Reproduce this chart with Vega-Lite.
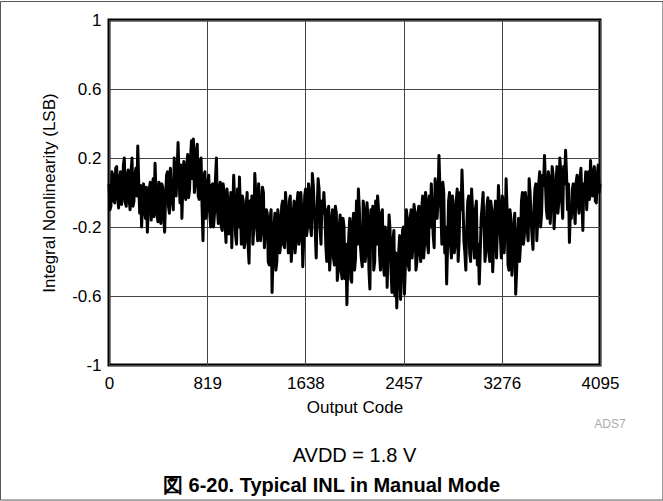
{
  "$schema": "https://vega.github.io/schema/vega-lite/v6.json",
  "width": 491,
  "height": 345,
  "autosize": {"type": "none"},
  "padding": {"left": 109, "top": 20, "right": 63, "bottom": 136},
  "background": "white",
  "config": {
    "view": {"stroke": "black", "strokeWidth": 3},
    "font": "Liberation Sans"
  },
  "datasets": {
    "inl": [
      {"code":0,"inl":0.05},{"code":8,"inl":-0.1},{"code":16,"inl":-0.08},{"code":24,"inl":0.12},{"code":32,"inl":0.1},{"code":40,"inl":-0.05},{"code":48,"inl":-0.06},{"code":56,"inl":0.14},{"code":64,"inl":0.15},{"code":72,"inl":-0.02},{"code":80,"inl":-0.09},{"code":88,"inl":0.08},{"code":96,"inl":0.12},{"code":104,"inl":-0.07},{"code":112,"inl":-0.03},{"code":120,"inl":0.16},{"code":128,"inl":0.2},{"code":136,"inl":-0.06},{"code":144,"inl":-0.08},{"code":152,"inl":0.1},{"code":160,"inl":0.13},{"code":168,"inl":-0.04},{"code":176,"inl":-0.1},{"code":184,"inl":0.12},{"code":192,"inl":0.2},{"code":200,"inl":-0.08},{"code":208,"inl":-0.05},{"code":216,"inl":0.1},{"code":224,"inl":0.14},{"code":232,"inl":-0.02},{"code":240,"inl":0.27},{"code":248,"inl":0.05},
      {"code":256,"inl":-0.12},{"code":264,"inl":0.04},{"code":272,"inl":-0.2},{"code":280,"inl":-0.05},{"code":288,"inl":0.05},{"code":296,"inl":-0.1},{"code":304,"inl":-0.15},{"code":312,"inl":0.03},{"code":320,"inl":-0.23},{"code":328,"inl":-0.08},{"code":336,"inl":0.02},{"code":344,"inl":0.06},{"code":352,"inl":-0.16},{"code":360,"inl":-0.04},{"code":368,"inl":0.08},{"code":376,"inl":-0.14},{"code":384,"inl":0.17},{"code":392,"inl":0.0},{"code":400,"inl":-0.12},{"code":408,"inl":-0.17},{"code":416,"inl":0.06},{"code":424,"inl":-0.05},{"code":432,"inl":-0.18},{"code":440,"inl":0.05},{"code":448,"inl":0.03},{"code":456,"inl":-0.14},
      {"code":464,"inl":-0.23},{"code":472,"inl":-0.02},{"code":480,"inl":0.1},{"code":488,"inl":0.12},{"code":496,"inl":-0.08},{"code":504,"inl":-0.12},{"code":512,"inl":0.14},{"code":520,"inl":0.0},{"code":528,"inl":-0.05},{"code":536,"inl":-0.1},{"code":544,"inl":0.2},{"code":552,"inl":0.08},{"code":560,"inl":-0.02},{"code":568,"inl":0.12},
      {"code":576,"inl":0.29},{"code":584,"inl":0.1},{"code":592,"inl":-0.06},{"code":600,"inl":0.16},{"code":608,"inl":-0.15},{"code":616,"inl":0.05},{"code":624,"inl":0.18},{"code":632,"inl":0.0},{"code":640,"inl":-0.04},{"code":648,"inl":0.15},{"code":656,"inl":0.22},{"code":664,"inl":-0.03},{"code":672,"inl":0.02},{"code":680,"inl":0.2},{"code":688,"inl":0.3},{"code":696,"inl":0.08},{"code":704,"inl":0.31},{"code":712,"inl":0.0},{"code":720,"inl":0.05},{"code":728,"inl":0.24},{"code":736,"inl":0.28},{"code":744,"inl":-0.02},{"code":752,"inl":-0.04},{"code":760,"inl":0.18},{"code":768,"inl":0.2},{"code":776,"inl":-0.08},{"code":784,"inl":-0.28},{"code":792,"inl":0.1},{"code":800,"inl":0.12},{"code":808,"inl":-0.15},
      {"code":816,"inl":-0.1},{"code":824,"inl":0.06},{"code":832,"inl":0.1},{"code":840,"inl":-0.12},{"code":848,"inl":-0.2},{"code":856,"inl":0.04},{"code":864,"inl":0.05},{"code":872,"inl":-0.2},{"code":880,"inl":-0.12},{"code":888,"inl":0.08},{"code":896,"inl":0.2},{"code":904,"inl":-0.1},{"code":912,"inl":-0.18},{"code":920,"inl":0.02},{"code":928,"inl":0.06},{"code":936,"inl":-0.2},{"code":944,"inl":-0.22},{"code":952,"inl":0.05},{"code":960,"inl":0.0},{"code":968,"inl":-0.18},{"code":976,"inl":-0.29},{"code":984,"inl":0.02},{"code":992,"inl":-0.05},{"code":1000,"inl":-0.24},{"code":1008,"inl":-0.2},{"code":1016,"inl":0.0},{"code":1024,"inl":-0.32},{"code":1032,"inl":-0.1},
      {"code":1040,"inl":0.1},{"code":1048,"inl":-0.05},{"code":1056,"inl":-0.25},{"code":1064,"inl":-0.3},{"code":1072,"inl":0.02},{"code":1080,"inl":-0.2},{"code":1088,"inl":0.09},{"code":1096,"inl":-0.1},{"code":1104,"inl":-0.3},{"code":1112,"inl":-0.02},{"code":1120,"inl":-0.05},{"code":1128,"inl":-0.32},{"code":1136,"inl":-0.28},{"code":1144,"inl":-0.08},{"code":1152,"inl":0.0},{"code":1160,"inl":-0.3},{"code":1168,"inl":-0.41},{"code":1176,"inl":-0.05},{"code":1184,"inl":-0.1},{"code":1192,"inl":-0.02},{"code":1200,"inl":-0.3},{"code":1208,"inl":-0.2},{"code":1216,"inl":0.11},{"code":1224,"inl":0.0},
      {"code":1232,"inl":-0.2},{"code":1240,"inl":-0.28},{"code":1248,"inl":0.05},{"code":1256,"inl":-0.05},{"code":1264,"inl":-0.28},{"code":1272,"inl":-0.22},{"code":1280,"inl":0.03},{"code":1288,"inl":0.0},{"code":1296,"inl":-0.32},{"code":1304,"inl":-0.2},{"code":1312,"inl":-0.1},{"code":1320,"inl":-0.12},{"code":1328,"inl":-0.4},{"code":1336,"inl":-0.42},{"code":1344,"inl":-0.15},{"code":1352,"inl":-0.1},{"code":1360,"inl":-0.58},{"code":1368,"inl":-0.38},{"code":1376,"inl":-0.2},{"code":1384,"inl":-0.12},{"code":1392,"inl":-0.45},{"code":1400,"inl":-0.4},{"code":1408,"inl":-0.1},{"code":1416,"inl":-0.15},
      {"code":1424,"inl":-0.35},{"code":1432,"inl":-0.3},{"code":1440,"inl":-0.08},{"code":1448,"inl":-0.05},{"code":1456,"inl":-0.3},{"code":1464,"inl":-0.32},{"code":1472,"inl":0.0},{"code":1480,"inl":-0.1},{"code":1488,"inl":-0.25},{"code":1496,"inl":-0.35},{"code":1504,"inl":-0.05},{"code":1512,"inl":-0.02},{"code":1520,"inl":-0.4},{"code":1528,"inl":-0.3},{"code":1536,"inl":-0.12},{"code":1544,"inl":-0.05},{"code":1552,"inl":-0.35},{"code":1560,"inl":-0.28},{"code":1568,"inl":-0.06},{"code":1576,"inl":0.0},{"code":1584,"inl":-0.3},{"code":1592,"inl":-0.25},{"code":1600,"inl":0.0},{"code":1608,"inl":-0.1},{"code":1616,"inl":-0.43},{"code":1624,"inl":-0.28},{"code":1632,"inl":-0.02},{"code":1640,"inl":0.02},{"code":1648,"inl":-0.25},{"code":1656,"inl":-0.2},
      {"code":1664,"inl":0.05},{"code":1672,"inl":0.0},{"code":1680,"inl":-0.2},{"code":1688,"inl":-0.25},{"code":1696,"inl":0.11},{"code":1704,"inl":0.04},{"code":1712,"inl":-0.1},{"code":1720,"inl":-0.22},{"code":1728,"inl":-0.38},{"code":1736,"inl":-0.1},{"code":1744,"inl":0.08},{"code":1752,"inl":0.02},{"code":1760,"inl":-0.2},{"code":1768,"inl":-0.3},{"code":1776,"inl":-0.05},{"code":1784,"inl":-0.12},{"code":1792,"inl":0.0},{"code":1800,"inl":-0.1},{"code":1808,"inl":-0.3},{"code":1816,"inl":-0.4},{"code":1824,"inl":-0.1},{"code":1832,"inl":-0.08},{"code":1840,"inl":-0.45},{"code":1848,"inl":-0.35},{"code":1856,"inl":-0.15},{"code":1864,"inl":-0.1},{"code":1872,"inl":-0.38},{"code":1880,"inl":-0.42},{"code":1888,"inl":-0.08},{"code":1896,"inl":-0.12},
      {"code":1904,"inl":-0.51},{"code":1912,"inl":-0.45},{"code":1920,"inl":-0.2},{"code":1928,"inl":-0.13},{"code":1936,"inl":-0.45},{"code":1944,"inl":-0.5},{"code":1952,"inl":-0.15},{"code":1960,"inl":-0.2},{"code":1968,"inl":-0.5},{"code":1976,"inl":-0.3},{"code":1984,"inl":-0.65},{"code":1992,"inl":-0.4},{"code":2000,"inl":-0.25},{"code":2008,"inl":-0.15},{"code":2016,"inl":-0.5},{"code":2024,"inl":-0.52},{"code":2032,"inl":-0.18},{"code":2040,"inl":-0.12},{"code":2048,"inl":-0.45},{"code":2056,"inl":-0.38},{"code":2064,"inl":-0.05},{"code":2072,"inl":-0.3},{"code":2080,"inl":0.02},{"code":2088,"inl":-0.1},
      {"code":2096,"inl":-0.3},{"code":2104,"inl":-0.38},{"code":2112,"inl":-0.43},{"code":2120,"inl":-0.05},{"code":2128,"inl":-0.1},{"code":2136,"inl":-0.4},{"code":2144,"inl":-0.35},{"code":2152,"inl":-0.06},{"code":2160,"inl":-0.15},{"code":2168,"inl":-0.45},{"code":2176,"inl":-0.56},{"code":2184,"inl":-0.1},{"code":2192,"inl":-0.2},{"code":2200,"inl":-0.08},{"code":2208,"inl":-0.45},{"code":2216,"inl":-0.4},{"code":2224,"inl":-0.05},{"code":2232,"inl":-0.3},{"code":2240,"inl":-0.02},{"code":2248,"inl":-0.1},{"code":2256,"inl":-0.35},{"code":2264,"inl":-0.45},{"code":2272,"inl":-0.12},{"code":2280,"inl":-0.1},{"code":2288,"inl":-0.42},{"code":2296,"inl":-0.48},{"code":2304,"inl":-0.2},{"code":2312,"inl":-0.25},
      {"code":2320,"inl":-0.55},{"code":2328,"inl":-0.3},{"code":2336,"inl":-0.13},{"code":2344,"inl":-0.22},{"code":2352,"inl":-0.45},{"code":2360,"inl":-0.58},{"code":2368,"inl":-0.28},{"code":2376,"inl":-0.22},{"code":2384,"inl":-0.6},{"code":2392,"inl":-0.35},{"code":2400,"inl":-0.67},{"code":2408,"inl":-0.5},{"code":2416,"inl":-0.35},{"code":2424,"inl":-0.25},{"code":2432,"inl":-0.62},{"code":2440,"inl":-0.45},{"code":2448,"inl":-0.22},{"code":2456,"inl":-0.2},
      {"code":2464,"inl":-0.59},{"code":2472,"inl":-0.42},{"code":2480,"inl":-0.1},{"code":2488,"inl":-0.15},{"code":2496,"inl":-0.42},{"code":2504,"inl":-0.45},{"code":2512,"inl":-0.15},{"code":2520,"inl":-0.1},{"code":2528,"inl":-0.38},{"code":2536,"inl":-0.3},{"code":2544,"inl":-0.07},{"code":2552,"inl":-0.12},{"code":2560,"inl":-0.45},{"code":2568,"inl":-0.4},{"code":2576,"inl":-0.12},{"code":2584,"inl":-0.08},{"code":2592,"inl":-0.35},{"code":2600,"inl":-0.4},{"code":2608,"inl":-0.09},{"code":2616,"inl":-0.02},
      {"code":2624,"inl":-0.38},{"code":2632,"inl":-0.3},{"code":2640,"inl":0.0},{"code":2648,"inl":-0.05},{"code":2656,"inl":-0.3},{"code":2664,"inl":-0.35},{"code":2672,"inl":-0.02},{"code":2680,"inl":-0.2},{"code":2688,"inl":0.05},{"code":2696,"inl":-0.1},{"code":2704,"inl":-0.25},{"code":2712,"inl":-0.32},{"code":2720,"inl":0.08},{"code":2728,"inl":0.0},{"code":2736,"inl":-0.15},{"code":2744,"inl":-0.05},{"code":2752,"inl":0.215},{"code":2760,"inl":0.02},{"code":2768,"inl":-0.1},{"code":2776,"inl":-0.3},{"code":2784,"inl":0.06},{"code":2792,"inl":0.0},{"code":2800,"inl":-0.35},{"code":2808,"inl":-0.2},{"code":2816,"inl":-0.53},{"code":2824,"inl":-0.3},
      {"code":2832,"inl":-0.05},{"code":2840,"inl":0.0},{"code":2848,"inl":-0.3},{"code":2856,"inl":-0.38},{"code":2864,"inl":-0.02},{"code":2872,"inl":-0.08},{"code":2880,"inl":-0.35},{"code":2888,"inl":-0.3},{"code":2896,"inl":-0.05},{"code":2904,"inl":0.02},{"code":2912,"inl":-0.4},{"code":2920,"inl":-0.28},{"code":2928,"inl":0.0},{"code":2936,"inl":-0.1},{"code":2944,"inl":0.13},{"code":2952,"inl":-0.05},{"code":2960,"inl":-0.28},{"code":2968,"inl":-0.35},{"code":2976,"inl":-0.45},{"code":2984,"inl":-0.2},{"code":2992,"inl":-0.05},{"code":3000,"inl":-0.02},
      {"code":3008,"inl":-0.35},{"code":3016,"inl":-0.4},{"code":3024,"inl":0.02},{"code":3032,"inl":-0.1},{"code":3040,"inl":-0.3},{"code":3048,"inl":-0.38},{"code":3056,"inl":-0.1},{"code":3064,"inl":-0.05},{"code":3072,"inl":-0.42},{"code":3080,"inl":-0.3},{"code":3088,"inl":-0.53},{"code":3096,"inl":-0.35},{"code":3104,"inl":-0.15},{"code":3112,"inl":-0.08},{"code":3120,"inl":0.0},{"code":3128,"inl":-0.2},{"code":3136,"inl":-0.4},{"code":3144,"inl":-0.32},
      {"code":3152,"inl":-0.08},{"code":3160,"inl":-0.03},{"code":3168,"inl":-0.35},{"code":3176,"inl":-0.4},{"code":3184,"inl":-0.05},{"code":3192,"inl":-0.1},{"code":3200,"inl":-0.46},{"code":3208,"inl":-0.3},{"code":3216,"inl":-0.12},{"code":3224,"inl":-0.05},{"code":3232,"inl":-0.38},{"code":3240,"inl":-0.2},{"code":3248,"inl":0.04},{"code":3256,"inl":-0.08},{"code":3264,"inl":-0.25},{"code":3272,"inl":-0.38},{"code":3280,"inl":-0.02},{"code":3288,"inl":-0.05},{"code":3296,"inl":-0.35},{"code":3304,"inl":-0.2},{"code":3312,"inl":0.08},{"code":3320,"inl":-0.1},
      {"code":3328,"inl":-0.42},{"code":3336,"inl":-0.45},{"code":3344,"inl":-0.1},{"code":3352,"inl":-0.15},{"code":3360,"inl":-0.48},{"code":3368,"inl":-0.4},{"code":3376,"inl":-0.2},{"code":3384,"inl":-0.12},{"code":3392,"inl":-0.59},{"code":3400,"inl":-0.45},{"code":3408,"inl":-0.25},{"code":3416,"inl":-0.15},{"code":3424,"inl":-0.4},{"code":3432,"inl":-0.3},{"code":3440,"inl":-0.05},{"code":3448,"inl":0.0},
      {"code":3456,"inl":-0.3},{"code":3464,"inl":-0.25},{"code":3472,"inl":0.0},{"code":3480,"inl":-0.05},{"code":3488,"inl":-0.22},{"code":3496,"inl":-0.28},{"code":3504,"inl":0.08},{"code":3512,"inl":0.0},{"code":3520,"inl":-0.15},{"code":3528,"inl":-0.25},{"code":3536,"inl":-0.33},{"code":3544,"inl":-0.1},{"code":3552,"inl":0.02},{"code":3560,"inl":0.05},
      {"code":3568,"inl":-0.28},{"code":3576,"inl":-0.15},{"code":3584,"inl":0.05},{"code":3592,"inl":0.12},{"code":3600,"inl":-0.2},{"code":3608,"inl":-0.12},{"code":3616,"inl":0.1},{"code":3624,"inl":0.04},{"code":3632,"inl":0.215},{"code":3640,"inl":0.05},{"code":3648,"inl":-0.1},{"code":3656,"inl":-0.15},{"code":3664,"inl":0.12},{"code":3672,"inl":0.08},{"code":3680,"inl":-0.18},{"code":3688,"inl":-0.05},{"code":3696,"inl":0.15},{"code":3704,"inl":0.1},
      {"code":3712,"inl":-0.21},{"code":3720,"inl":-0.1},{"code":3728,"inl":0.05},{"code":3736,"inl":0.15},{"code":3744,"inl":-0.12},{"code":3752,"inl":-0.05},{"code":3760,"inl":0.2},{"code":3768,"inl":0.12},{"code":3776,"inl":-0.05},{"code":3784,"inl":-0.15},{"code":3792,"inl":0.15},{"code":3800,"inl":0.05},{"code":3808,"inl":0.245},{"code":3816,"inl":0.1},{"code":3824,"inl":-0.1},{"code":3832,"inl":0.05},{"code":3840,"inl":-0.29},{"code":3848,"inl":-0.1},
      {"code":3856,"inl":-0.15},{"code":3864,"inl":0.02},{"code":3872,"inl":0.05},{"code":3880,"inl":-0.1},{"code":3888,"inl":-0.18},{"code":3896,"inl":0.06},{"code":3904,"inl":0.1},{"code":3912,"inl":-0.05},{"code":3920,"inl":-0.12},{"code":3928,"inl":0.08},{"code":3936,"inl":0.14},{"code":3944,"inl":-0.05},{"code":3952,"inl":-0.22},{"code":3960,"inl":0.05},
      {"code":3968,"inl":0.0},{"code":3976,"inl":0.12},{"code":3984,"inl":-0.1},{"code":3992,"inl":0.02},{"code":4000,"inl":0.12},{"code":4008,"inl":-0.04},{"code":4016,"inl":0.186},{"code":4024,"inl":0.06},{"code":4032,"inl":-0.02},{"code":4040,"inl":0.12},{"code":4048,"inl":0.15},{"code":4056,"inl":-0.05},{"code":4064,"inl":-0.06},{"code":4072,"inl":0.1},{"code":4080,"inl":0.16},{"code":4088,"inl":0.0},{"code":4095,"inl":0.05}
    ]
  },
  "layer": [
    {
      "data": {"name": "inl"},
      "mark": {"type": "line", "color": "black", "strokeWidth": 3, "strokeJoin": "round"},
      "encoding": {
        "x": {
          "field": "code", "type": "quantitative",
          "scale": {"domain": [0, 4095], "nice": false, "zero": false},
          "axis": {
            "values": [0, 819, 1638, 2457, 3276, 4095], "format": "d",
            "title": "Output Code", "grid": true, "gridColor": "#444", "gridWidth": 1,
            "domain": false, "ticks": false, "labelPadding": 10, "labelFontSize": 17,
            "labelColor": "black", "labelFlush": false, "labelOverlap": false,
            "titleFontSize": 17, "titleFontWeight": "normal", "titleColor": "black", "titlePadding": 8
          }
        },
        "y": {
          "field": "inl", "type": "quantitative",
          "scale": {"domain": [-1, 1], "nice": false, "zero": false},
          "axis": {
            "values": [-1, -0.6, -0.2, 0.2, 0.6, 1],
            "labelExpr": "datum.value < 0 ? '-' + format(-datum.value, '~g') : format(datum.value, '~g')",
            "title": "Integral Nonlinearity (LSB)", "grid": true, "gridColor": "#444", "gridWidth": 1,
            "domain": false, "ticks": false, "labelPadding": 8, "labelFontSize": 17,
            "labelColor": "black", "labelFlush": false, "labelOverlap": false,
            "titleFontSize": 17, "titleFontWeight": "normal", "titleColor": "black", "titlePadding": 13
          }
        }
      }
    },
    {
      "data": {"values": [{"label": "AVDD = 1.8 V"}]},
      "mark": {"type": "text", "fontSize": 20, "color": "black", "baseline": "middle", "align": "center"},
      "encoding": {
        "x": {"datum": 2047.5, "type": "quantitative"},
        "y": {"datum": -1.528, "type": "quantitative"},
        "text": {"field": "label"}
      }
    },
    {
      "data": {"values": [{"label": "図 6-20. Typical INL in Manual Mode"}]},
      "mark": {"type": "text", "fontSize": 20, "fontWeight": "bold", "color": "black", "baseline": "middle", "align": "center"},
      "encoding": {
        "x": {"datum": 1856, "type": "quantitative"},
        "y": {"datum": -1.701, "type": "quantitative"},
        "text": {"field": "label"}
      }
    },
    {
      "data": {"values": [{"label": "ADS7"}]},
      "mark": {"type": "text", "fontSize": 12, "color": "#aaaaaa", "baseline": "middle", "align": "center"},
      "encoding": {
        "x": {"datum": 4178, "type": "quantitative"},
        "y": {"datum": -1.342, "type": "quantitative"},
        "text": {"field": "label"}
      }
    },
    {
      "data": {"values": [{"label": "frame"}]},
      "mark": {"type": "rect", "fill": null, "stroke": "#555", "strokeWidth": 1},
      "encoding": {
        "x": {"datum": -905, "type": "quantitative"},
        "x2": {"datum": 4620},
        "y": {"datum": 1.107},
        "y2": {"datum": -1.783}
      }
    }
  ]
}
